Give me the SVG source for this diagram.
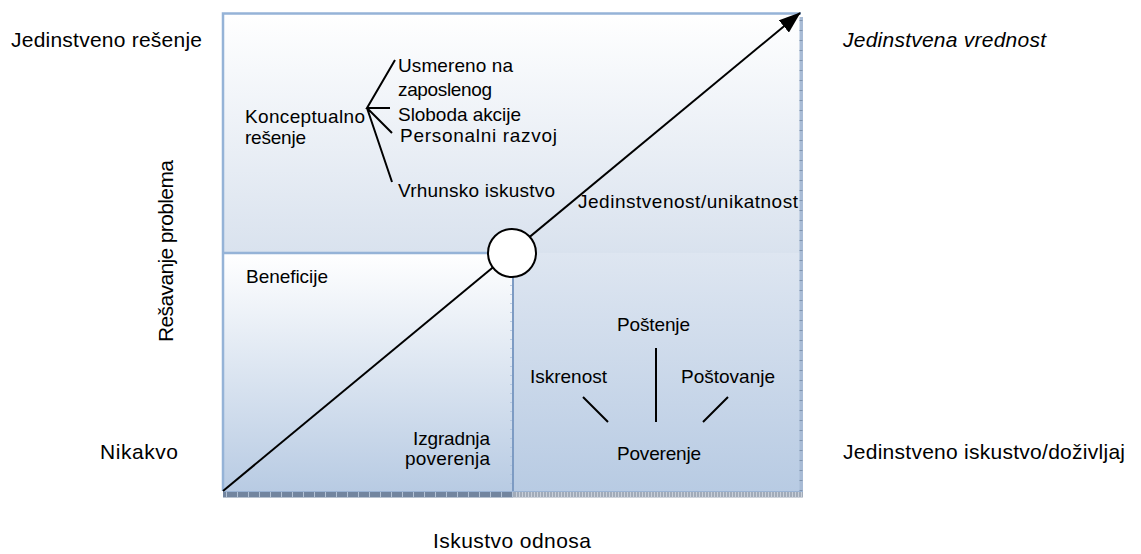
<svg xmlns="http://www.w3.org/2000/svg" width="1141" height="554" viewBox="0 0 1141 554">
  <defs>
    <linearGradient id="gTop" x1="0" y1="0" x2="0" y2="1">
      <stop offset="0" stop-color="#ffffff"/>
      <stop offset="1" stop-color="#d9e2ee"/>
    </linearGradient>
    <linearGradient id="gLeft" x1="0" y1="0" x2="0" y2="1">
      <stop offset="0" stop-color="#ffffff"/>
      <stop offset="1" stop-color="#b8cbe3"/>
    </linearGradient>
    <linearGradient id="gRight" x1="0" y1="0" x2="0" y2="1">
      <stop offset="0" stop-color="#dee6f1"/>
      <stop offset="1" stop-color="#b8cbe3"/>
    </linearGradient>
    <marker id="arrow" viewBox="0 0 10 10" refX="9" refY="5" markerWidth="10" markerHeight="8" markerUnits="userSpaceOnUse" orient="auto" overflow="visible">
      <path d="M0,0 L10,5 L0,10 Z" fill="#000"/>
    </marker>
    <marker id="head" viewBox="0 0 22 16" refX="21" refY="8" markerWidth="22" markerHeight="16" markerUnits="userSpaceOnUse" orient="auto">
      <path d="M0,0 L22,8 L0,16 Z" fill="#000"/>
    </marker>
  </defs>
  <style>
    text { font-family: "Liberation Sans", Arial, sans-serif; fill: #000; }
    .outer { font-size: 21px; }
    .inner { font-size: 19px; }
    .edge { stroke: #95b3d7; stroke-width: 2.5; fill: none; }
    .line { stroke: #000; stroke-width: 2; fill: none; }
  </style>

  <rect width="1141" height="554" fill="#ffffff"/>

  <!-- quadrant panels -->
  <g id="panel-top">
    <rect x="223" y="13" width="578" height="240" fill="url(#gTop)"/>
  </g>
  <g id="panel-lower-left">
    <rect x="223" y="253" width="290" height="238" fill="url(#gLeft)"/>
  </g>
  <g id="panel-lower-right">
    <rect x="513" y="253" width="288" height="238" fill="url(#gRight)"/>
  </g>

  <!-- frame edges and shadow bands -->
  <g id="frame">
    <path class="edge" d="M223,491 V13.5 H801"/>
    <line class="edge" x1="223" y1="253" x2="492" y2="253"/>
    <line x1="513" y1="276" x2="513" y2="492" stroke="#7d9bc3" stroke-width="2"/>
    <line x1="511" y1="276" x2="511" y2="492" stroke="#a9bfdc" stroke-width="1.5" stroke-dasharray="1 8"/>
    <rect x="799.5" y="17" width="3.5" height="480" fill="#a8bbd5"/>
    <line x1="801" y1="20" x2="801" y2="497" stroke="#7f93ad" stroke-width="3" stroke-dasharray="1 9"/>
    <rect x="223" y="491.5" width="290" height="6" fill="#72859f"/>
    <rect x="513" y="491.5" width="290" height="6" fill="#a1abb9"/>
    <line x1="226" y1="494.5" x2="513" y2="494.5" stroke="#b4c3d6" stroke-width="6" stroke-dasharray="1 10"/>
    <line x1="516" y1="494.5" x2="803" y2="494.5" stroke="#c9d0da" stroke-width="6" stroke-dasharray="1 2"/>
    <line x1="223" y1="491.5" x2="803" y2="491.5" stroke="#9ab3d4" stroke-width="1"/>
  </g>

  <!-- connectors -->
  <g id="connectors">
    <line class="line" x1="223" y1="491" x2="800" y2="13" marker-end="url(#head)"/>
    <!-- branches of the concept bracket -->
    <path class="line" d="M395,60 L367,108 L390,108 M367,108 L392,133 M367,108 L392,182"/>
    <!-- trust spokes -->
    <path class="line" d="M656,348 V422 M583,397 L608,422 M728,397 L703,422"/>
  </g>

  <g id="center-node">
    <circle cx="512" cy="253" r="24" fill="#ffffff" stroke="#000" stroke-width="2"/>
  </g>

  <!-- axis labels -->
  <g id="axis-labels">
    <text class="outer" x="11" y="47" textLength="191">Jedinstveno rešenje</text>
    <text class="outer" x="843" y="47" textLength="203" font-style="italic">Jedinstvena vrednost</text>
    <text class="outer" x="100" y="459" textLength="78">Nikakvo</text>
    <text class="outer" x="843" y="459" textLength="282">Jedinstveno iskustvo/doživljaj</text>
    <text class="outer" x="433" y="548" textLength="158">Iskustvo odnosa</text>
    <text class="outer" transform="translate(173,251) rotate(-90)" x="-91" y="0" textLength="182">Rešavanje problema</text>
  </g>

  <g id="node-concept">
    <text class="inner" x="245" y="123" textLength="120">Konceptualno</text>
    <text class="inner" x="245" y="144" textLength="61">rešenje</text>
  </g>
  <g id="node-employee">
    <text class="inner" x="398" y="72" textLength="115">Usmereno na</text>
    <text class="inner" x="398" y="96" textLength="94">zaposlenog</text>
  </g>
  <g id="node-freedom">
    <text class="inner" x="398" y="121" textLength="123">Sloboda akcije</text>
  </g>
  <g id="node-growth">
    <text class="inner" x="400" y="142" textLength="157">Personalni razvoj</text>
  </g>
  <g id="node-experience">
    <text class="inner" x="398" y="197" textLength="157">Vrhunsko iskustvo</text>
  </g>
  <g id="node-uniqueness">
    <text class="inner" x="578" y="208" textLength="220">Jedinstvenost/unikatnost</text>
  </g>
  <g id="node-benefits">
    <text class="inner" x="246" y="283" textLength="82">Beneficije</text>
  </g>
  <g id="node-trust-building">
    <text class="inner" x="413" y="445" textLength="77">Izgradnja</text>
    <text class="inner" x="405" y="465" textLength="85">poverenja</text>
  </g>
  <g id="node-honesty">
    <text class="inner" x="617" y="331" textLength="73">Poštenje</text>
  </g>
  <g id="node-sincerity">
    <text class="inner" x="530" y="383" textLength="77">Iskrenost</text>
  </g>
  <g id="node-respect">
    <text class="inner" x="681" y="383" textLength="94">Poštovanje</text>
  </g>
  <g id="node-trust">
    <text class="inner" x="617" y="460" textLength="84">Poverenje</text>
  </g>
</svg>
